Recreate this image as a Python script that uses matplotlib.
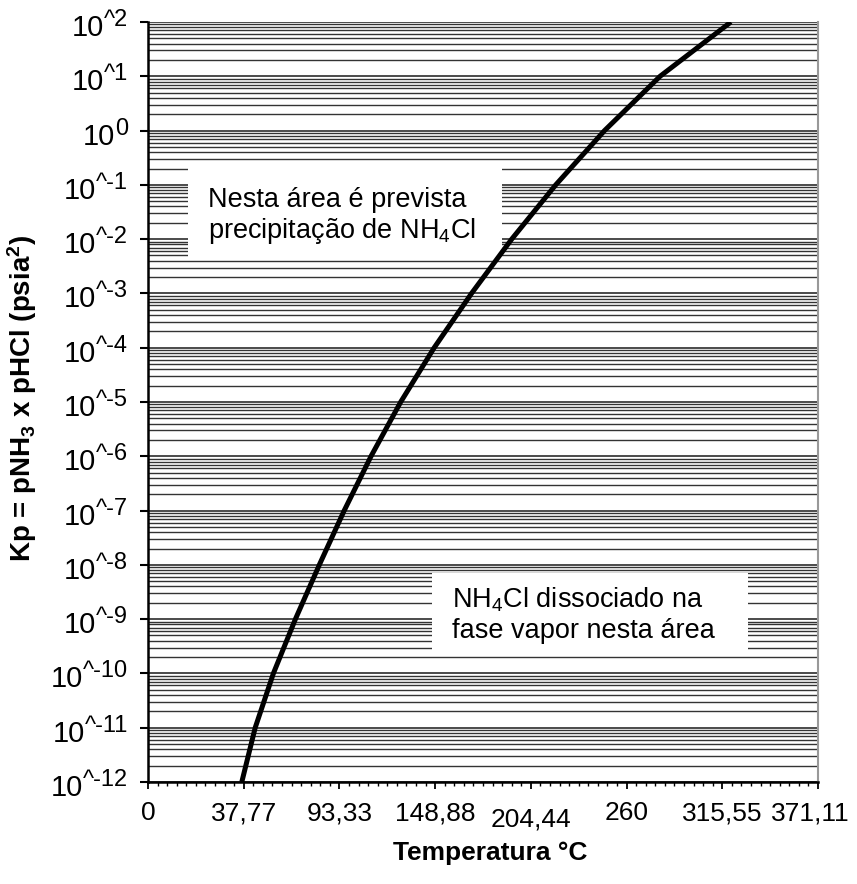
import numpy as np
import matplotlib
matplotlib.use("Agg")
import matplotlib.pyplot as plt
from matplotlib.patches import Rectangle
from matplotlib.ticker import FixedLocator, LogLocator, NullFormatter
from matplotlib.transforms import ScaledTranslation

plt.rcParams['font.family'] = ['Liberation Sans', 'DejaVu Sans']
plt.rcParams['mathtext.fontset'] = 'custom'
plt.rcParams['mathtext.rm'] = 'Liberation Sans'
plt.rcParams['mathtext.it'] = 'Liberation Sans:italic'
plt.rcParams['mathtext.bf'] = 'Liberation Sans:bold'

# curve (x axis in °F, labels show °C)
temp_f = [98, 112, 131, 154, 179, 205, 233, 264, 299, 338, 380, 426, 477, 535, 609]
kp_exp = [-12, -11, -10, -9, -8, -7, -6, -5, -4, -3, -2, -1, 0, 1, 2]

x_ticks = [0, 100, 200, 300, 400, 500, 600, 700]
x_labels = ['0', '37,77', '93,33', '148,88', '204,44', '260', '315,55', '371,11']
y_exps = ['-12', '-11', '-10', '-9', '-8', '-7', '-6', '-5', '-4', '-3', '-2', '-1', '0', '1', '2']

kp = [10.0 ** e for e in kp_exp]

fig = plt.figure(figsize=(8.57, 8.84), dpi=100)
ax = fig.add_axes([148 / 857, 102 / 884, 670 / 857, 760 / 884])

ax.set_yscale('log')
ax.set_xlim(0, 700)
ax.set_ylim(1e-12, 1e2)

# gridlines
ax.yaxis.set_minor_locator(LogLocator(base=10, subs=np.arange(2, 10), numticks=100))
ax.yaxis.set_minor_formatter(NullFormatter())
ax.grid(True, which='major', axis='y', color='#1a1a1a', lw=1.1)
ax.grid(True, which='minor', axis='y', color='#333333', lw=1.0)
ax.grid(False, axis='x')

ax.plot(temp_f, kp, color='black', lw=3.6, solid_capstyle='butt',
        solid_joinstyle='round', zorder=5)

# y ticks, labels drawn by hand: big "10" + raised "^n"
yt = [10.0 ** int(e) for e in y_exps]
ax.set_yticks(yt)
ax.set_yticklabels([])
ax.tick_params(axis='y', which='major', direction='out', length=5.5, width=1.5)
ax.tick_params(axis='y', which='minor', length=0)

renderer = fig.canvas.get_renderer()
pt = 72 / 100
for e in y_exps:
    yv = 10.0 ** int(e)
    sup = e if e == '0' else '^' + e
    t = ax.annotate(sup, xy=(0, yv), xycoords=('axes fraction', 'data'),
                    xytext=(-20 * pt, -4 * pt), textcoords='offset points',
                    ha='right', va='baseline', fontsize=17, annotation_clip=False)
    w = t.get_window_extent(renderer).width
    ax.annotate('10', xy=(0, yv), xycoords=('axes fraction', 'data'),
                xytext=((-20 - w) * pt, -14 * pt), textcoords='offset points',
                ha='right', va='baseline', fontsize=21, annotation_clip=False)

ax.set_xticks(x_ticks)
ax.set_xticklabels(x_labels, fontsize=19)
ax.xaxis.set_minor_locator(FixedLocator(np.arange(0, 701, 10)))
ax.tick_params(axis='x', which='major', direction='out', length=5, width=1.3, pad=9)
ax.tick_params(axis='x', which='minor', direction='out', length=3, width=1.0)
for lab in ax.get_xticklabels():
    if lab.get_text() == '204,44':
        lab.set_y(-0.008)
    if lab.get_text() == '371,11':
        lab.set_transform(lab.get_transform() + ScaledTranslation(-8 / 100, 0, fig.dpi_scale_trans))

for s in ['left', 'bottom']:
    ax.spines[s].set_linewidth(1.8)
    ax.spines[s].set_color('black')
ax.spines['right'].set_color('#999999')
ax.spines['right'].set_linewidth(1.5)
ax.spines['top'].set_visible(False)

# white text boxes
ax.add_patch(Rectangle((0.0597, 0.688), 0.468, 0.121, transform=ax.transAxes,
                       facecolor='white', edgecolor='none', zorder=3))
ax.text(0.0896, 0.757, 'Nesta área é prevista', transform=ax.transAxes,
        fontsize=19.5, va='baseline', ha='left', zorder=4)
ax.text(0.0896, 0.716, r'precipitação de NH$_{\mathrm{4}}$Cl', transform=ax.transAxes,
        fontsize=19.5, va='baseline', ha='left', zorder=4)

ax.add_patch(Rectangle((0.424, 0.174), 0.472, 0.101, transform=ax.transAxes,
                       facecolor='white', edgecolor='none', zorder=3))
ax.text(0.454, 0.230, r'NH$_{\mathrm{4}}$Cl dissociado na', transform=ax.transAxes,
        fontsize=19.5, va='baseline', ha='left', zorder=4)
ax.text(0.454, 0.189, 'fase vapor nesta área', transform=ax.transAxes,
        fontsize=19.5, va='baseline', ha='left', zorder=4)

fig.text(490 / 857, 1 - 860 / 884, 'Temperatura °C', fontsize=19, fontweight='bold',
         ha='center', va='baseline')
fig.text(22 / 857, 1 - 398 / 884, r'Kp = pNH$_{\mathbf{3}}$ x pHCl (psia$^{\mathbf{2}}$)',
         fontsize=20, fontweight='bold', rotation=90, ha='center', va='center')

fig.savefig('out.png', dpi=100)
